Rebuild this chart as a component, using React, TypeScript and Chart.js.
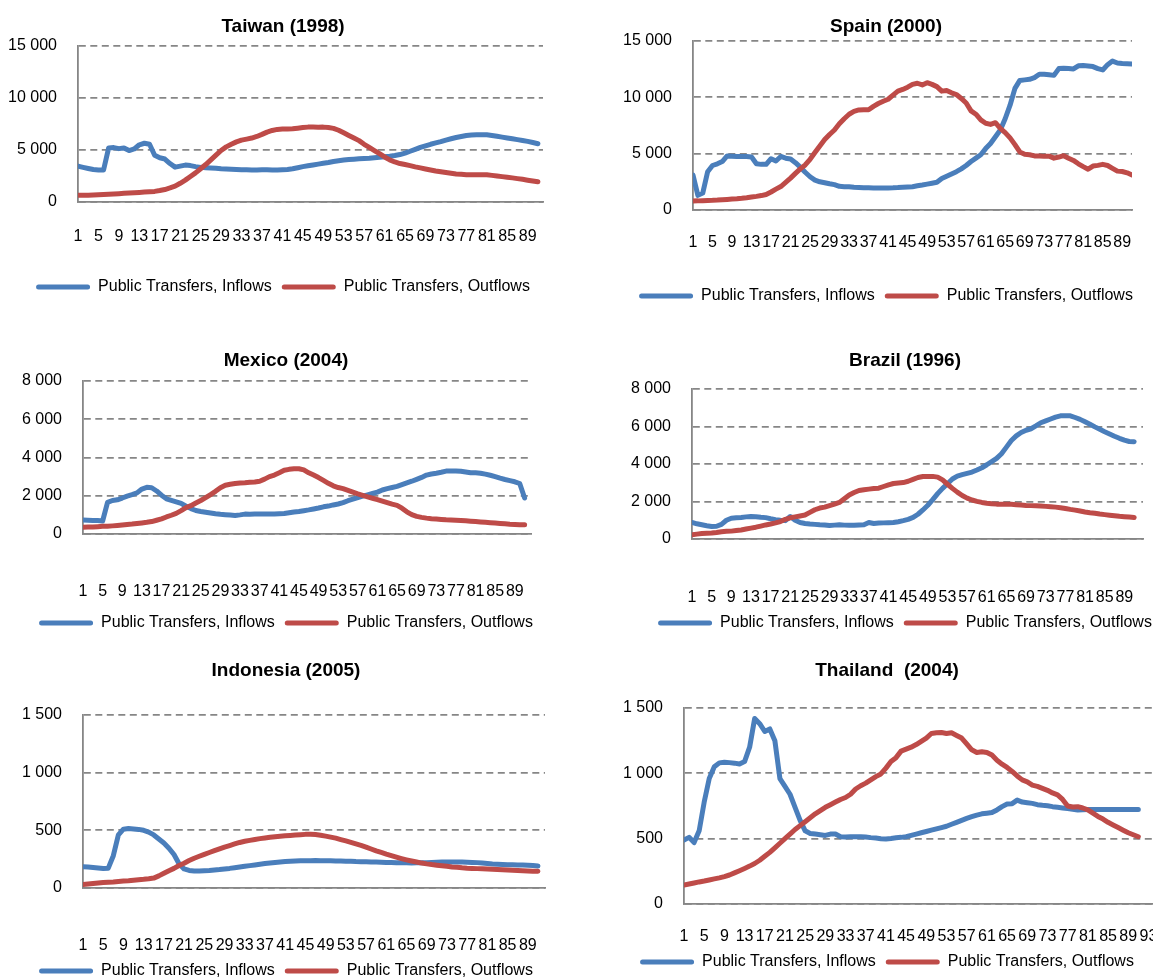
import React, { useEffect, useRef } from 'react';
import { Chart, registerables } from 'chart.js';

Chart.register(...registerables);

// ---------- Data ----------
const AGES = [
  1, 2, 3, 4, 5, 6, 7, 8, 9, 10, 11, 12, 13, 14, 15, 16, 17, 18, 19, 20,
  21, 22, 23, 24, 25, 26, 27, 28, 29, 30, 31, 32, 33, 34, 35, 36, 37, 38, 39, 40,
  41, 42, 43, 44, 45, 46, 47, 48, 49, 50, 51, 52, 53, 54, 55, 56, 57, 58, 59, 60,
  61, 62, 63, 64, 65, 66, 67, 68, 69, 70, 71, 72, 73, 74, 75, 76, 77, 78, 79, 80,
  81, 82, 83, 84, 85, 86, 87, 88, 89, 90, 91,
];

const X_TICKS = [1, 5, 9, 13, 17, 21, 25, 29, 33, 37, 41, 45, 49, 53, 57, 61, 65, 69, 73, 77, 81, 85, 89, 93];

const SERIES_NAMES = ['Public Transfers, Inflows', 'Public Transfers, Outflows'];

const TW_IN = [
  3450, 3330, 3220, 3120, 3080, 3080, 5200, 5230, 5130, 5200,
  4950, 5100, 5500, 5650, 5550, 4500, 4250, 4130, 3700, 3350,
  3450, 3550, 3500, 3400, 3330, 3300, 3280, 3250, 3200, 3170,
  3150, 3130, 3100, 3100, 3080, 3080, 3100, 3100, 3080, 3080,
  3100, 3130, 3200, 3300, 3400, 3480, 3560, 3640, 3720, 3800,
  3900, 3970, 4030, 4080, 4120, 4160, 4190, 4200, 4250, 4300,
  4350, 4400, 4470, 4560, 4700, 4880, 5060, 5250, 5400, 5550,
  5680, 5800, 5950, 6080, 6200, 6300, 6400, 6450, 6470, 6470,
  6460, 6400, 6320, 6240, 6160, 6080, 6000, 5920, 5830, 5720, 5600,
];
const TW_OUT = [
  650, 650, 660, 680, 700, 720, 750, 780, 800, 830,
  860, 900, 920, 950, 980, 1020, 1100, 1200, 1350, 1520,
  1800, 2100, 2450, 2800, 3200, 3600, 4050, 4500, 4950, 5300,
  5550, 5780, 5950, 6050, 6150, 6300, 6500, 6720, 6880, 6980,
  7010, 7020, 7040, 7100, 7160, 7200, 7200, 7190, 7200, 7160,
  7080, 6900, 6650, 6400, 6150, 5900, 5550, 5250, 4950, 4650,
  4330, 4050, 3850, 3700, 3600, 3500, 3380, 3280, 3180, 3080,
  2980, 2900, 2830, 2760, 2700, 2660, 2630, 2620, 2620, 2630,
  2620, 2560, 2500, 2440, 2380, 2320, 2250, 2180, 2100, 2020, 1940,
];

const ES_IN = [
  3100, 1300, 1500, 3400, 3950, 4100, 4300, 4800, 4780, 4740,
  4740, 4740, 4700, 4100, 4050, 4050, 4550, 4350, 4750, 4600,
  4530, 4200, 3800, 3350, 2950, 2650, 2500, 2420, 2330, 2250,
  2100, 2070, 2060, 2020, 2000, 1980, 1970, 1960, 1950, 1950,
  1960, 1970, 1990, 2020, 2050, 2070, 2150, 2220, 2300, 2380,
  2460, 2800, 3000, 3200, 3400, 3650, 3950, 4300, 4600, 4900,
  5450, 5900, 6500, 7100, 8100, 9300, 10800, 11500, 11550, 11600,
  11750, 12050, 12050, 12000, 11950, 12550, 12580, 12550, 12520, 12800,
  12820, 12780, 12730, 12550, 12430, 12900, 13220, 13050, 13000, 12980, 12960,
];
const ES_OUT = [
  800, 810, 830, 850, 860, 880, 910, 940, 970, 1000,
  1040, 1090, 1150, 1210, 1280, 1380, 1600, 1850, 2080, 2450,
  2830, 3250, 3650, 4000, 4500, 5100, 5680, 6250, 6700, 7100,
  7650, 8100, 8500, 8750, 8880, 8900, 8900, 9200, 9450, 9650,
  9830, 10200, 10550, 10700, 10900, 11150, 11250, 11100, 11300, 11150,
  10950, 10550, 10600, 10400, 10250, 9900, 9500, 8800, 8500, 8000,
  7700, 7600, 7750, 7250, 6870, 6400, 5800, 5150, 4950, 4900,
  4800, 4800, 4760, 4780, 4600, 4700, 4820, 4600, 4400, 4100,
  3850, 3620, 3900, 3960, 4050, 3950, 3700, 3450, 3420, 3300, 3110,
];

const MX_IN = [
  730, 720, 710, 700, 680, 1650, 1750, 1790, 1880, 1980,
  2060, 2150, 2350, 2440, 2420, 2250, 2030, 1840, 1760, 1680,
  1600, 1450, 1330, 1230, 1180, 1140, 1100, 1060, 1030, 1010,
  990, 970, 1000, 1040, 1030, 1040, 1040, 1040, 1050, 1050,
  1060, 1070, 1110, 1150, 1180, 1220, 1260, 1310, 1360, 1420,
  1460, 1520, 1570, 1640, 1740, 1820, 1900, 1980, 2050, 2120,
  2190, 2300, 2370, 2430, 2490, 2580, 2670, 2760, 2860, 2960,
  3080, 3140, 3180, 3230, 3290, 3300, 3300, 3280, 3240, 3200,
  3200, 3180, 3130, 3070, 3000, 2920, 2850, 2790, 2730, 2640, 1880,
];
const MX_OUT = [
  350, 360, 370, 385, 400, 410, 425, 445, 470, 500,
  520, 550, 580, 610, 650, 720, 790, 890, 980, 1080,
  1220, 1380, 1480, 1620, 1750, 1900, 2060, 2230, 2420, 2550,
  2600, 2640, 2670, 2680, 2700, 2720, 2760, 2870, 3000, 3080,
  3200, 3330, 3380, 3410, 3410, 3350, 3200, 3080, 2950, 2800,
  2650, 2520, 2430, 2370, 2280, 2190, 2100, 2020, 1940, 1870,
  1800, 1720, 1640, 1560, 1500, 1350, 1160, 1010, 920, 870,
  830, 800, 780, 760, 740, 730, 720, 710, 690, 670,
  650, 630, 610, 590, 570, 550, 530, 510, 500, 490, 490,
];

const BR_IN = [
  880, 810, 760, 710, 670, 680, 780, 1000, 1110, 1130,
  1150, 1180, 1200, 1190, 1160, 1140, 1080, 1030, 1000, 980,
  1200, 1000, 880, 830, 800, 780, 760, 750, 720, 740,
  760, 740, 730, 730, 750, 760, 880, 830, 850, 860,
  870, 880, 920, 980, 1050, 1150, 1320, 1550, 1800, 2100,
  2420, 2700, 2950, 3200, 3350, 3430, 3500, 3570, 3680, 3800,
  3960, 4130, 4300, 4550, 4900, 5250, 5500, 5680, 5800, 5880,
  6030, 6200, 6300, 6400, 6500, 6570, 6580, 6570, 6480, 6380,
  6250, 6120, 5980, 5850, 5720, 5600, 5480, 5370, 5270, 5200, 5190,
];
const BR_OUT = [
  230, 260, 290, 310, 320, 350, 390, 410, 420, 450,
  480, 530, 580, 630, 690, 750, 800, 860, 930, 1050,
  1130, 1180, 1230, 1280, 1420, 1560, 1650, 1700, 1780, 1860,
  1950, 2150, 2350, 2480, 2590, 2630, 2660, 2690, 2710, 2800,
  2890, 2960, 2990, 3010, 3080, 3180, 3280, 3330, 3340, 3340,
  3300, 3150, 2920, 2700, 2500, 2320, 2180, 2080, 2010, 1950,
  1910, 1880, 1860, 1860, 1860, 1850, 1830, 1810, 1790, 1780,
  1770, 1760, 1740, 1720, 1700, 1670, 1630, 1580, 1540, 1490,
  1440, 1400, 1370, 1330, 1300, 1270, 1240, 1210, 1190, 1170, 1150,
];

const ID_IN = [
  185, 182, 178, 174, 170, 172, 280, 460, 510, 515,
  512, 508, 500, 485, 460, 425, 390, 345, 290, 210,
  165, 152, 148, 148, 150, 152, 156, 160, 165, 170,
  176, 182, 188, 194, 200, 206, 212, 217, 222, 226,
  229, 232, 234, 236, 237, 237, 238, 237, 237, 236,
  235, 234, 233, 231, 229, 228, 227, 226, 225, 224,
  222, 221, 220, 219, 218, 217, 218, 219, 220, 222,
  224, 225, 226, 226, 225, 225, 224, 222, 220, 216,
  212, 208, 206, 204, 202, 201, 200, 199, 198, 195, 191,
];
const ID_OUT = [
  30, 35, 39, 43, 47, 50, 53, 57, 60, 63,
  67, 71, 75, 80, 86, 105, 128, 150, 170, 195,
  215, 238, 258, 275, 292, 308, 324, 340, 355, 368,
  382, 395, 405, 413, 421, 428, 434, 440, 445, 449,
  453, 456, 459, 462, 465, 466, 464, 458, 450, 441,
  432, 420, 408, 395, 382, 370, 355, 338, 322, 308,
  293, 280, 267, 255, 244, 234, 225, 216, 209, 203,
  198, 193, 188, 183, 179, 175, 172, 170, 168, 166,
  164, 162, 160, 158, 156, 154, 152, 150, 148, 146, 145,
];

const TH_IN = [
  490, 510, 470, 560, 780, 960, 1050, 1080, 1085, 1082,
  1078, 1072, 1090, 1200, 1420, 1380, 1320, 1340, 1250, 960,
  900, 840, 740, 640, 560, 540, 535, 530, 525, 535,
  536, 515, 512, 515, 515, 515, 512, 508, 505, 500,
  498, 502, 507, 510, 515, 525, 535, 545, 555, 565,
  575, 585, 595, 610, 625, 640, 655, 668, 680, 690,
  695, 700, 720, 745, 765, 768, 795, 780, 775, 770,
  760, 755, 752, 745, 740, 735, 730, 725, 720, 722,
  724, 724, 724, 724, 724, 724, 724, 724, 724, 724, 724,
];
const TH_OUT = [
  145, 153, 161, 169, 176, 184, 192, 200, 210, 222,
  238, 255, 272, 290, 310, 335, 365, 395, 430, 465,
  500, 535, 570, 600, 630, 660, 690, 715, 740, 760,
  780, 800, 815, 840, 880, 905, 925, 950, 975, 995,
  1040, 1090, 1120, 1170, 1185, 1200, 1220, 1245, 1270, 1305,
  1310, 1312, 1305, 1310, 1290, 1270, 1225, 1180, 1160, 1165,
  1160, 1140, 1100, 1070, 1045, 1015, 980, 950, 935, 910,
  900, 885, 870, 850, 835, 800, 750, 742, 745, 735,
  720, 695, 670, 650, 625, 605, 585, 565, 545, 530, 515,
];

// ---------- Styling / layout ----------
const BLUE = '#4a7ebb';
const RED = '#be4b48';
const GRID = '#868686';
const FONT = '"Liberation Sans", Arial, Helvetica, sans-serif';
const TITLE_SIZE = 19;
const TICK_SIZE = 16;
const TITLE_LH = TITLE_SIZE * 1.2;
const TICK_LH = TICK_SIZE * 1.2;
const LEGEND_PAD = 10;
const LEGEND_HALF = LEGEND_PAD + TICK_SIZE / 2; // legend top -> text centre
const LEGEND_H = TICK_SIZE + LEGEND_PAD + 10;

type Layout = {
  left: number; top: number; axisX: number; plotRight: number; center: number;
  titleY: number; plotTop: number; plotBottom: number; xLabelY: number; legendY: number;
};
type Panel = {
  title: string; inflows: number[]; outflows: number[];
  yMax: number; yStep: number; xMax: number; layout: Layout;
};

const PANELS: Panel[] = [
  {
    title: 'Taiwan (1998)', inflows: TW_IN, outflows: TW_OUT, yMax: 15000, yStep: 5000, xMax: 92,
    layout: { left: 0, top: 0, axisX: 78, plotRight: 543, center: 283, titleY: 27, plotTop: 46, plotBottom: 202, xLabelY: 237, legendY: 287 },
  },
  {
    title: 'Spain (2000)', inflows: ES_IN, outflows: ES_OUT, yMax: 15000, yStep: 5000, xMax: 91,
    layout: { left: 576, top: 0, axisX: 693, plotRight: 1132, center: 886, titleY: 27, plotTop: 41, plotBottom: 210, xLabelY: 243, legendY: 296 },
  },
  {
    title: 'Mexico (2004)', inflows: MX_IN, outflows: MX_OUT, yMax: 8000, yStep: 2000, xMax: 92.3,
    layout: { left: 0, top: 320, axisX: 83, plotRight: 531, center: 286, titleY: 361, plotTop: 381, plotBottom: 534, xLabelY: 592, legendY: 623 },
  },
  {
    title: 'Brazil (1996)', inflows: BR_IN, outflows: BR_OUT, yMax: 8000, yStep: 2000, xMax: 92.8,
    layout: { left: 576, top: 320, axisX: 692, plotRight: 1143, center: 905, titleY: 361, plotTop: 389, plotBottom: 539, xLabelY: 598, legendY: 623 },
  },
  {
    title: 'Indonesia (2005)', inflows: ID_IN, outflows: ID_OUT, yMax: 1500, yStep: 500, xMax: 92.4,
    layout: { left: 0, top: 640, axisX: 83, plotRight: 545, center: 286, titleY: 671, plotTop: 715, plotBottom: 888, xLabelY: 946, legendY: 971 },
  },
  {
    title: 'Thailand  (2004)', inflows: TH_IN, outflows: TH_OUT, yMax: 1500, yStep: 500, xMax: 94.5,
    layout: { left: 576, top: 640, axisX: 684, plotRight: 1156, center: 887, titleY: 671, plotTop: 708, plotBottom: 904, xLabelY: 937, legendY: 962 },
  },
];

const fmtThousands = (v: number) => {
  const s = String(Math.round(v));
  return s.replace(/\B(?=(\d{3})+(?!\d))/g, ' ');
};

function PanelChart({ panel }: { panel: Panel }) {
  const ref = useRef<HTMLCanvasElement | null>(null);
  const L = panel.layout;
  const yW = L.axisX - L.left;
  const E = 2 * L.center - L.left - L.plotRight;
  const W = L.plotRight + E - L.left;
  const titlePadTop = L.titleY - TITLE_LH / 2 - L.top;
  const titlePadBottom = L.plotTop - (L.titleY + TITLE_LH / 2);
  const xPad = L.xLabelY - L.plotBottom - TICK_LH / 2;
  const xH = L.legendY - LEGEND_HALF - L.plotBottom;
  const H = Math.ceil(L.plotBottom + xH + LEGEND_H - L.top);

  useEffect(() => {
    if (!ref.current) return;
    const toPoints = (vals: number[]) => vals.map((y, i) => ({ x: AGES[i], y }));
    const chart = new Chart(ref.current, {
      type: 'line',
      data: {
        datasets: [
          {
            label: SERIES_NAMES[0], data: toPoints(panel.inflows),
            borderColor: BLUE, backgroundColor: BLUE, borderWidth: 5,
            pointRadius: 0, tension: 0, borderCapStyle: 'round', borderJoinStyle: 'round',
            xAxisID: 'x', yAxisID: 'y', order: 1,
          },
          {
            label: SERIES_NAMES[1], data: toPoints(panel.outflows),
            borderColor: RED, backgroundColor: RED, borderWidth: 5,
            pointRadius: 0, tension: 0, borderCapStyle: 'round', borderJoinStyle: 'round',
            xAxisID: 'x', yAxisID: 'y', order: 0,
          },
        ],
      },
      options: {
        responsive: false,
        animation: false,
        devicePixelRatio: 1,
        layout: { padding: 0 },
        font: { family: FONT },
        plugins: {
          tooltip: { enabled: false },
          title: {
            display: true, text: panel.title, color: '#000',
            font: { family: FONT, size: TITLE_SIZE, weight: 'bold' },
            padding: { top: titlePadTop, bottom: titlePadBottom },
          },
          legend: {
            display: true, position: 'bottom', align: 'center',
            labels: {
              color: '#000', font: { family: FONT, size: TICK_SIZE },
              boxWidth: 54, boxHeight: 5, padding: LEGEND_PAD,
              useBorderRadius: true, borderRadius: 2.5,
              generateLabels: (c: any) => {
                const items = (Chart as any).defaults.plugins.legend.labels.generateLabels(c);
                return items
                  .sort((a: any, b: any) => a.datasetIndex - b.datasetIndex)
                  .map((it: any) => ({ ...it, lineWidth: 0 }));
              },
            },
          },
        },
        scales: {
          x: {
            type: 'linear', position: 'bottom', min: 1, max: panel.xMax,
            grid: { display: false, drawTicks: false },
            border: { display: true, color: GRID, width: 1.8 },
            ticks: {
              autoSkip: false, maxRotation: 0, minRotation: 0, padding: xPad, color: '#000',
              font: { family: FONT, size: TICK_SIZE },
              callback: (v: any) => String(v),
            },
            afterBuildTicks: (axis: any) => {
              axis.ticks = X_TICKS.filter((v) => v <= axis.max).map((v) => ({ value: v }));
            },
            afterFit: (s: any) => { s.height = xH; s.paddingLeft = 0; s.paddingRight = 0; },
          },
          y: {
            type: 'linear', position: 'left', min: 0, max: panel.yMax,
            grid: { display: true, color: GRID, lineWidth: 1.7, drawTicks: false },
            border: { display: true, color: GRID, width: 1.8, dash: [7, 4.5] },
            ticks: {
              stepSize: panel.yStep, padding: 21, color: '#000',
              font: { family: FONT, size: TICK_SIZE },
              callback: (v: any) => fmtThousands(Number(v)),
            },
            afterFit: (s: any) => { s.width = yW; s.paddingTop = 0; s.paddingBottom = 0; },
          },
          padR: {
            type: 'linear', position: 'right', display: true,
            grid: { display: false, drawTicks: false },
            border: { display: false },
            ticks: { display: false },
            afterFit: (s: any) => { s.width = E; s.paddingTop = 0; s.paddingBottom = 0; },
          },
        },
      } as any,
    });
    return () => chart.destroy();
  }, []);

  return (
    <canvas
      ref={ref}
      width={W}
      height={H}
      style={{ position: 'absolute', left: L.left, top: L.top, width: W, height: H }}
    />
  );
}

export default function App() {
  return (
    <div
      style={{
        position: 'fixed', left: 0, top: 0, width: 1153, height: 977,
        overflow: 'hidden', background: '#fff',
      }}
    >
      {PANELS.map((p) => (
        <PanelChart key={p.title} panel={p} />
      ))}
    </div>
  );
}
